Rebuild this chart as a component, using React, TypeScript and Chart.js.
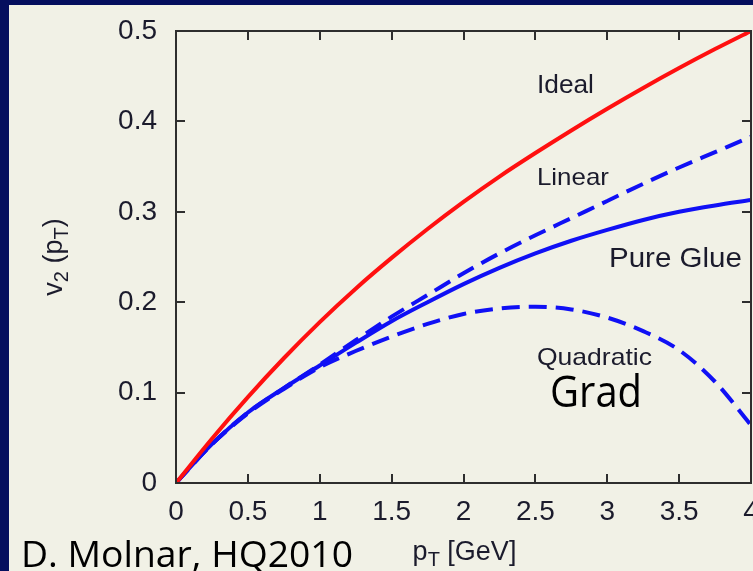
import React, { useEffect, useRef } from 'react';
import { Chart, registerables } from 'chart.js';

Chart.register(...registerables);

// Transverse momentum grid (GeV)
const pT = [0, 0.25, 0.5, 0.75, 1, 1.25, 1.5, 1.75, 2, 2.25, 2.5, 2.75, 3, 3.25, 3.5, 3.75, 4];

// Elliptic flow v2(pT) for each viscous correction ansatz
const ideal = [0, 0.049, 0.095, 0.138, 0.178, 0.215, 0.249, 0.281, 0.311, 0.339, 0.365, 0.39, 0.414, 0.437, 0.459, 0.48, 0.5];
const linear = [0, 0.043, 0.078, 0.105, 0.131, 0.158, 0.184, 0.208, 0.232, 0.254, 0.274, 0.293, 0.312, 0.331, 0.349, 0.366, 0.383];
const pureGlue = [0, 0.043, 0.078, 0.105, 0.13, 0.155, 0.179, 0.2, 0.22, 0.238, 0.254, 0.268, 0.28, 0.291, 0.3, 0.307, 0.313];
const quadratic = [0, 0.043, 0.077, 0.104, 0.128, 0.146, 0.162, 0.176, 0.187, 0.193, 0.195, 0.192, 0.183, 0.168, 0.147, 0.112, 0.064];

const xTickLabels = ['0', '0.5', '1', '1.5', '2', '2.5', '3', '3.5', '4'];
const yTickLabels = ['0', '0.1', '0.2', '0.3', '0.4', '0.5'];

const RED = '#ff1010';
const BLUE = '#1010f5';
const INK = '#1b1b2c';
const SANS = '"Liberation Sans", Arial, sans-serif';
const HUMANIST = '"Open Sans", "Noto Sans", sans-serif';

type Part = [string, boolean];

// Draw a run of text with optional subscript parts, starting at (start,0) on the baseline
function drawRun(ctx: CanvasRenderingContext2D, parts: Part[], size: number, subSize: number, subDrop: number, start: number) {
  let x = start;
  for (const [t, sub] of parts) {
    ctx.font = `${sub ? subSize : size}px ${SANS}`;
    ctx.fillText(t, x, sub ? subDrop : 0);
    x += ctx.measureText(t).width;
  }
}

function runWidth(ctx: CanvasRenderingContext2D, parts: Part[], size: number, subSize: number) {
  let w = 0;
  for (const [t, sub] of parts) {
    ctx.font = `${sub ? subSize : size}px ${SANS}`;
    w += ctx.measureText(t).width;
  }
  return w;
}

// Text stretched horizontally to a given width
function fitText(ctx: CanvasRenderingContext2D, text: string, x: number, y: number, font: string, width: number) {
  ctx.font = font;
  const w = ctx.measureText(text).width;
  ctx.save();
  ctx.translate(x, y);
  ctx.scale(width / w, 1);
  ctx.textAlign = 'left';
  ctx.textBaseline = 'alphabetic';
  ctx.fillText(text, 0, 0);
  ctx.restore();
}

const framePlugin = {
  id: 'frameAndNotes',
  afterDatasetsDraw(chart: any) {
    const ctx: CanvasRenderingContext2D = chart.ctx;
    const { left, top, right, bottom } = chart.chartArea;
    const xs = chart.scales.x;
    const ys = chart.scales.y;
    const tick = 9;

    ctx.save();
    ctx.strokeStyle = '#2e2e2e';
    ctx.lineWidth = 2;
    ctx.strokeRect(left, top, right - left, bottom - top);

    ctx.beginPath();
    xs.ticks.forEach((t: any) => {
      const px = Math.round(xs.getPixelForValue(t.value));
      if (px <= left + 1 || px >= right - 1) return;
      ctx.moveTo(px, bottom);
      ctx.lineTo(px, bottom - tick);
      ctx.moveTo(px, top);
      ctx.lineTo(px, top + tick);
    });
    ys.ticks.forEach((t: any) => {
      const py = Math.round(ys.getPixelForValue(t.value));
      if (py <= top + 1 || py >= bottom - 1) return;
      ctx.moveTo(left, py);
      ctx.lineTo(left + tick, py);
      ctx.moveTo(right, py);
      ctx.lineTo(right - tick, py);
    });
    ctx.stroke();

    // curve labels, anchored in data coordinates
    ctx.fillStyle = INK;
    const at = (x: number, y: number) => [xs.getPixelForValue(x), ys.getPixelForValue(y)];
    let p = at(2.511, 0.4314);
    fitText(ctx, 'Ideal', p[0], p[1], `25px ${SANS}`, 57);
    p = at(2.511, 0.3296);
    fitText(ctx, 'Linear', p[0], p[1], `24px ${SANS}`, 72);
    p = at(3.012, 0.2389);
    fitText(ctx, 'Pure Glue', p[0], p[1], `28px ${SANS}`, 133);
    p = at(2.511, 0.1305);
    fitText(ctx, 'Quadratic', p[0], p[1], `24px ${SANS}`, 115);

    ctx.fillStyle = '#000';
    p = at(2.602, 0.0841);
    fitText(ctx, 'Grad', p[0], p[1], `44px ${HUMANIST}`, 92);

    // axis titles with subscripts
    ctx.fillStyle = INK;
    ctx.textAlign = 'left';
    ctx.textBaseline = 'alphabetic';
    const xt: Part[] = [['p', false], ['T', true], [' [GeV]', false]];
    const xw = runWidth(ctx, xt, 27, 20);
    ctx.save();
    ctx.translate(xs.getPixelForValue(2) + 1, 560);
    drawRun(ctx, xt, 27, 20, 6, -xw / 2);
    ctx.restore();

    const yt: Part[] = [['v', false], ['2', true], [' (p', false], ['T', true], [')', false]];
    const yw = runWidth(ctx, yt, 27, 20);
    ctx.save();
    ctx.translate(62, 257);
    ctx.rotate(-Math.PI / 2);
    drawRun(ctx, yt, 27, 20, 6, -yw / 2);
    ctx.restore();

    // credit line
    ctx.fillStyle = '#000';
    fitText(ctx, 'D. Molnar, HQ2010', 21, 567, `36px ${HUMANIST}`, 332);
    ctx.restore();
  },
};

export default function App() {
  const ref = useRef<HTMLCanvasElement | null>(null);

  useEffect(() => {
    const canvas = ref.current;
    if (!canvas) return;
    const series = (vals: number[]) => pT.map((x, i) => ({ x, y: vals[i] }));
    const line = (label: string, vals: number[], color: string, dashed: boolean) => ({
      label,
      data: series(vals),
      borderColor: color,
      borderWidth: 4,
      borderDash: dashed ? [18, 9] : [],
      pointRadius: 0,
      fill: false,
      cubicInterpolationMode: 'monotone' as const,
    });

    const chart = new Chart(canvas, {
      type: 'line',
      data: {
        datasets: [
          line('Ideal', ideal, RED, false),
          line('Linear', linear, BLUE, true),
          line('Quadratic', quadratic, BLUE, true),
          line('Pure Glue', pureGlue, BLUE, false),
        ],
      },
      options: {
        animation: false,
        responsive: false,
        devicePixelRatio: 1,
        layout: { padding: { left: 0, top: 31, right: 2, bottom: 0 } },
        plugins: { legend: { display: false }, tooltip: { enabled: false } },
        scales: {
          x: {
            type: 'linear',
            min: 0,
            max: 4,
            grid: { display: false, drawTicks: false },
            border: { display: false },
            ticks: {
              stepSize: 0.5,
              autoSkip: false,
              maxRotation: 0,
              padding: 12,
              color: INK,
              font: { family: SANS, size: 28 },
              callback: (_v: any, i: number) => xTickLabels[i],
            },
            afterFit: (s: any) => {
              s.height = 88;
              s.paddingLeft = 0;
              s.paddingRight = 0;
            },
          },
          y: {
            type: 'linear',
            min: 0,
            max: 0.5,
            grid: { display: false, drawTicks: false },
            border: { display: false },
            ticks: {
              stepSize: 0.1,
              padding: 19,
              color: INK,
              font: { family: SANS, size: 28 },
              callback: (_v: any, i: number) => yTickLabels[i],
            },
            afterFit: (s: any) => {
              s.width = 176;
              s.paddingTop = 0;
              s.paddingBottom = 0;
            },
          },
        },
      },
      plugins: [framePlugin],
    });
    return () => chart.destroy();
  }, []);

  return (
    <div style={{ position: 'fixed', left: 0, top: 0, width: 753, height: 571, overflow: 'hidden', background: '#050f5e' }}>
      <div style={{ position: 'absolute', left: 9, top: 5, right: 0, bottom: 0, background: '#f1f1e6' }} />
      <canvas ref={ref} width={753} height={571} style={{ position: 'absolute', left: 0, top: 0, width: 753, height: 571 }} />
    </div>
  );
}
